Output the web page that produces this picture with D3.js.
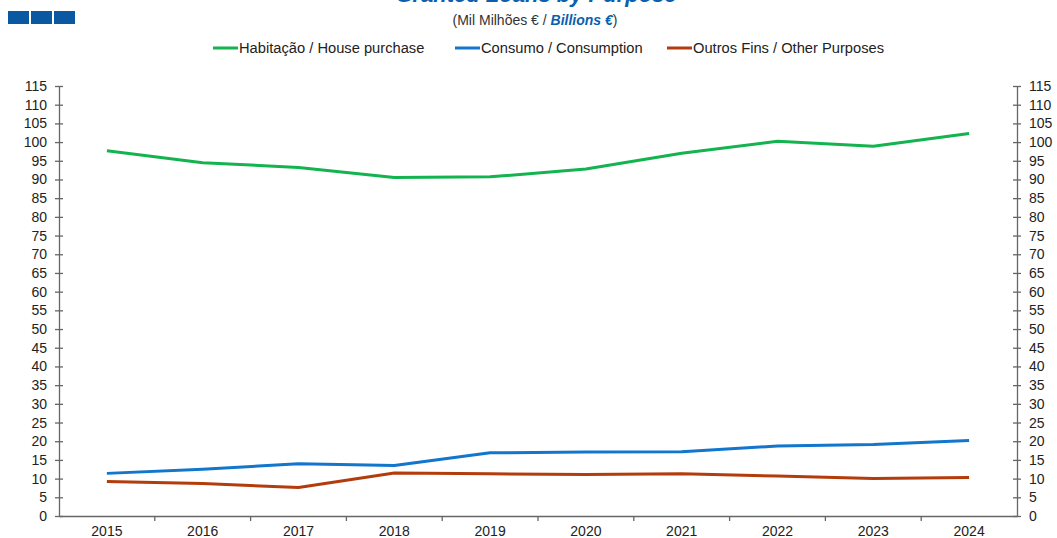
<!DOCTYPE html>
<html>
<head>
<meta charset="utf-8">
<script src="https://cdn.jsdelivr.net/npm/d3@7"></script>
<style>
  body { margin: 0; background: #fff; }
  svg { font-family: "Liberation Sans", Arial, sans-serif; }
</style>
</head>
<body>
<div id="svg-container"></div>
<script>
const width = 1057;
const height = 538;
var margin = {top: 86, bottom: 22, left: 59, right: 40};

// ******** DATA *********
var years = ['2015', '2016', '2017', '2018', '2019', '2020', '2021', '2022', '2023', '2024'];
var habitacao = [97.7, 94.5, 93.2, 90.5, 90.7, 92.8, 97.0, 100.2, 98.9, 102.3];
var consumo = [11.4, 12.5, 14.0, 13.5, 16.9, 17.1, 17.2, 18.7, 19.1, 20.2];
var outros = [9.2, 8.7, 7.6, 11.5, 11.3, 11.1, 11.3, 10.7, 10.0, 10.3];
var seriesNames = ['Habitação / House purchase', 'Consumo / Consumption', 'Outros Fins / Other Purposes'];
var yTicks = d3.range(0, 116, 5);

const colors = ['#13b34f', '#1176cc', '#b33c0d'];
var series = [habitacao, consumo, outros];

// ********* Create SVG *********
var svg = d3.select("#svg-container").append('svg')
.attr('width', width)
.attr('height', height);

// ******** LOGO *********
svg.selectAll('.logo')
.data([0, 1, 2])
.enter().append('rect')
.attr('class', 'logo')
.attr('x', function(d){ return 8 + d*23; })
.attr('y', 11)
.attr('width', 21)
.attr('height', 13)
.style('fill', '#0b58a2');

// ******** TITLE *********
// title sits partly above the top edge, as in the source picture
svg.append('text')
.attr('x', 536)
.attr('y', 2)
.attr('text-anchor', 'middle')
.style('font-size', '22px')
.style('font-weight', 'bold')
.style('font-style', 'italic')
.style('fill', '#0b5fae')
.text('Granted Loans by Purpose');

var sub = svg.append('text')
.attr('x', 535)
.attr('y', 25)
.attr('text-anchor', 'middle')
.style('font-size', '14px')
.style('fill', '#333');
sub.append('tspan').text('(Mil Milhões  € / ');
sub.append('tspan').text('Billions €')
.style('font-weight', 'bold')
.style('font-style', 'italic')
.style('fill', '#0b5fae');
sub.append('tspan').text(')');

// ******** SCALES *********
var x_scale = d3.scaleBand()
.domain(years)
.range([margin.left, width - margin.right]);

var y_scale = d3.scaleLinear()
.domain([0, 115])
.range([height - margin.bottom, margin.top]);

// ******** AXES *********
var axisColor = '#666';
var left = svg.append('g')
.attr('transform', `translate(${margin.left}, 0)`)
.call(d3.axisLeft(y_scale).tickValues(yTicks).tickSize(4).tickPadding(8).tickSizeOuter(0));
left.selectAll('.tick line').attr('x2', 4).attr('x1', -4);

var right = svg.append('g')
.attr('transform', `translate(${width - margin.right}, 0)`)
.call(d3.axisRight(y_scale).tickValues(yTicks).tickSize(4).tickPadding(8).tickSizeOuter(0));
right.selectAll('.tick line').attr('x1', -4).attr('x2', 4);

var bottom = svg.append('g')
.attr('transform', `translate(0, ${height - margin.bottom})`)
.call(d3.axisBottom(x_scale).tickSize(0).tickPadding(10));

// tick marks at category boundaries
bottom.selectAll('.sep')
.data(years.slice(1))
.enter().append('line')
.attr('class', 'sep')
.attr('x1', function(d){ return x_scale(d); })
.attr('x2', function(d){ return x_scale(d); })
.attr('y1', 0)
.attr('y2', 5);

svg.selectAll('.domain, .tick line, .sep')
.attr('stroke', axisColor)
.attr('stroke-width', 1.3);
svg.selectAll('.tick text')
.style('font-size', '14px')
.style('font-family', '"Liberation Sans", Arial, sans-serif')
.style('fill', '#222');

// ******** LINES *********
var line = d3.line()
.x(function(d, i){ return x_scale(years[i]) + x_scale.bandwidth()/2; })
.y(function(d){ return y_scale(d); });

svg.selectAll('.series')
.data(series)
.enter().append('path')
.attr('class', 'series')
.attr('d', line)
.style('fill', 'none')
.style('stroke', function(d, i){ return colors[i]; })
.style('stroke-width', 3)
.style('stroke-linejoin', 'round');

// ******** LEGEND *********
var legendX = [213, 455, 667];
var legend = svg.selectAll('.legend')
.data(seriesNames)
.enter().append('g')
.attr('class', 'legend')
.attr('transform', function(d, i){ return `translate(${legendX[i]}, 48)`; });
legend.append('line')
.attr('x1', 0).attr('x2', 25)
.attr('y1', 0).attr('y2', 0)
.style('stroke', function(d, i){ return colors[i]; })
.style('stroke-width', 3);
legend.append('text')
.attr('x', 26)
.attr('y', 5)
.style('font-size', '14.7px')
.style('fill', '#222')
.text(function(d){ return d; });
</script>
</body>
</html>
